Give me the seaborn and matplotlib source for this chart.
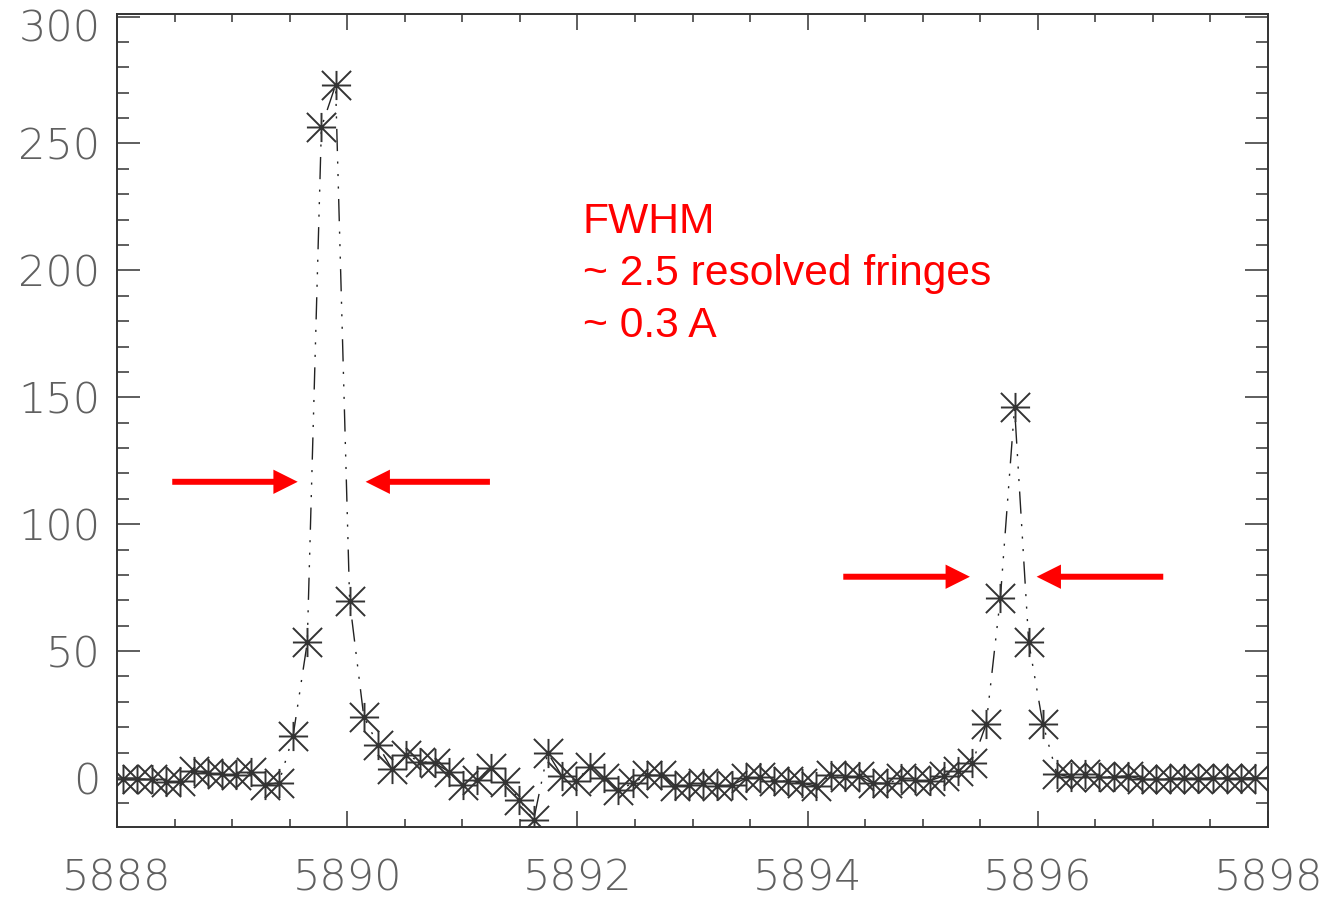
import numpy as np
import pandas as pd
import matplotlib
matplotlib.use("Agg")
import matplotlib.pyplot as plt
import matplotlib.transforms as mtransforms
import seaborn as sns
from matplotlib.path import Path
from matplotlib.ticker import MultipleLocator

# ---------------- data ----------------
wavelength = [
    5888.055, 5888.178, 5888.301, 5888.424, 5888.547, 5888.670, 5888.792, 5888.915,
    5889.038, 5889.161, 5889.284, 5889.407, 5889.530, 5889.653, 5889.776, 5889.899,
    5890.021, 5890.144, 5890.267, 5890.390, 5890.513, 5890.636, 5890.759, 5890.882,
    5891.005, 5891.128, 5891.250, 5891.373, 5891.496, 5891.619, 5891.742, 5891.865,
    5891.988, 5892.111, 5892.234, 5892.357, 5892.479, 5892.602, 5892.725, 5892.848,
    5892.971, 5893.094, 5893.217, 5893.340, 5893.463, 5893.586, 5893.708, 5893.831,
    5893.954, 5894.077, 5894.200, 5894.323, 5894.446, 5894.569, 5894.692, 5894.815,
    5894.937, 5895.060, 5895.183, 5895.306, 5895.429, 5895.552, 5895.675, 5895.798,
    5895.921, 5896.044, 5896.166, 5896.289, 5896.412, 5896.535, 5896.658, 5896.781,
    5896.904, 5897.027, 5897.150, 5897.273, 5897.395, 5897.518, 5897.641, 5897.764,
    5897.887,
]
intensity = [
    -0.5, -0.5, -0.5, -1.5, -1.1, 2.9, 1.9, 1.6,
    1.1, 2.2, -2.8, -1.8, 16.6, 53.4, 256.4, 273.0,
    69.9, 24.2, 13.0, 3.4, 9.1, 6.4, 6.0, 2.5,
    -2.8, -0.8, 4.1, -1.5, -8.5, -16.7, 10.0, 0.8,
    -1.1, 4.5, -0.1, -4.7, -2.1, 1.2, 1.2, -3.2,
    -2.8, -2.1, -3.2, -2.8, -0.1, 0.3, -1.2, -1.2,
    -2.1, -3.2, 1.2, 0.5, 0.8, -2.1, -2.1, -0.1,
    -0.8, -1.1, 0.8, 2.9, 5.8, 21.3, 71.1, 146.0,
    53.5, 21.3, 1.6, 0.3, 1.6, 0.5, 0.5, 0.8,
    -0.5, -0.5, -0.3, 0.1, -0.4, 0.1, 0.1, -0.3,
    0.1,
]
x_ticks = [5888, 5890, 5892, 5894, 5896, 5898]
y_ticks = [0, 50, 100, 150, 200, 250, 300]

note_lines = ["FWHM", "~ 2.5 resolved fringes", "~ 0.3 A"]
# FWHM arrows: (tail, head) in data coordinates
arrow_pairs = [
    ((5888.48, 116.7), (5889.57, 116.7)),
    ((5891.24, 116.7), (5890.16, 116.7)),
    ((5894.31, 79.3), (5895.41, 79.3)),
    ((5897.09, 79.3), (5895.99, 79.3)),
]

# ---------------- style ----------------
sns.set_style("ticks")
plt.rcParams["font.family"] = ["DejaVu Sans"]
plt.rcParams["lines.scale_dashes"] = False

fig = plt.figure(figsize=(13.3, 9.02), dpi=100)
ax = fig.add_axes([117 / 1330, 1 - 827 / 902, 1151 / 1330, 813 / 902])

# IDL-style asterisk (psym=2): +, x with square extent
asterisk = Path(
    [(-1, 0), (1, 0), (0, -1), (0, 1), (-1, -1), (1, 1), (-1, 1), (1, -1)],
    [Path.MOVETO, Path.LINETO] * 4,
)

df = pd.DataFrame({"wavelength": wavelength, "intensity": intensity})
sns.lineplot(
    data=df, x="wavelength", y="intensity", ax=ax,
    sort=False, estimator=None, color="#222222", lw=1.0,
    marker=asterisk, markersize=21, markeredgewidth=1.4,
    markeredgecolor="#333333", markerfacecolor="none",
)
ax.lines[0].set_dashes([16, 7.5, 1.5, 7.5, 1.5, 7.5, 1.5, 7.5])

ax.set_xlim(5888, 5898)
ax.set_ylim(-19.3, 301)
ax.set_xticks(x_ticks)
ax.set_yticks(y_ticks)
ax.xaxis.set_minor_locator(MultipleLocator(0.5))
ax.yaxis.set_minor_locator(MultipleLocator(10))
ax.set_xlabel("")
ax.set_ylabel("")

ax.tick_params(which="both", direction="in", top=True, right=True,
               color="#333333", width=1.1, labelcolor="#606060", labelsize=31)
ax.tick_params(axis="x", which="major", length=11.5, pad=22)
ax.tick_params(axis="x", which="minor", length=6)
ax.tick_params(axis="y", which="major", length=16.6, pad=12)
ax.tick_params(axis="y", which="minor", length=8.6)
for lab in ax.get_xticklabels() + ax.get_yticklabels():
    lab.set_fontweight(200)
# top y label sits slightly lower, as in the original
top_lab = ax.get_yticklabels()[-1]
top_lab.set_transform(top_lab.get_transform() +
                      mtransforms.ScaledTranslation(0, -8 / 100, fig.dpi_scale_trans))
for s in ax.spines.values():
    s.set_visible(True)
    s.set_linewidth(1.4)
    s.set_color("#333333")

# FWHM arrows
for tail, head in arrow_pairs:
    ax.annotate(
        "", xy=head, xytext=tail,
        arrowprops=dict(
            arrowstyle="simple,head_length=17.5,head_width=17.5,tail_width=4.3",
            mutation_scale=1, color="#ff0000", lw=0, shrinkA=0, shrinkB=0,
        ),
    )

# red annotation text
baselines = [1 - 233 / 902, 1 - 285 / 902, 1 - 337 / 902]
for txt, yb in zip(note_lines, baselines):
    fig.text(583 / 1330, yb, txt, color="#ff0000", fontsize=30.7,
             family=["Liberation Sans", "DejaVu Sans"], va="baseline", ha="left")

fig.savefig("out.png", dpi=100)
